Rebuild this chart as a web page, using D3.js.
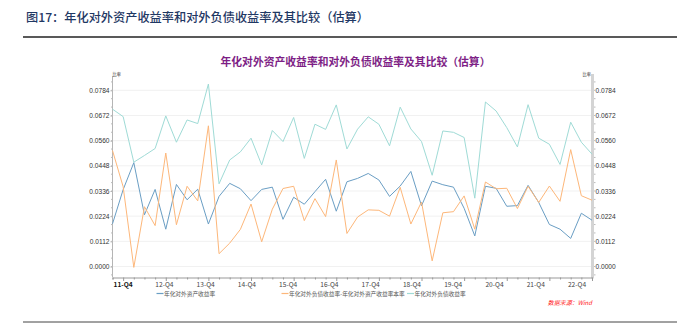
<!DOCTYPE html>
<html>
<head>
<meta charset="utf-8">
<script src="https://cdn.jsdelivr.net/npm/d3@7/dist/d3.min.js"></script>
<style>
  html, body { margin: 0; padding: 0; background: #fff; }
  svg { display: block; font-family: "Noto Sans CJK SC", "Noto Sans", sans-serif; }
</style>
</head>
<body>
<svg id="chart" width="677" height="336"></svg>
<script>
// Quarterly periods, 2011-Q3 to 2022-Q4
const quarters = [
  "11-Q3","11-Q4",
  "12-Q1","12-Q2","12-Q3","12-Q4",
  "13-Q1","13-Q2","13-Q3","13-Q4",
  "14-Q1","14-Q2","14-Q3","14-Q4",
  "15-Q1","15-Q2","15-Q3","15-Q4",
  "16-Q1","16-Q2","16-Q3","16-Q4",
  "17-Q1","17-Q2","17-Q3","17-Q4",
  "18-Q1","18-Q2","18-Q3","18-Q4",
  "19-Q1","19-Q2","19-Q3","19-Q4",
  "20-Q1","20-Q2","20-Q3","20-Q4",
  "21-Q1","21-Q2","21-Q3","21-Q4",
  "22-Q1","22-Q2","22-Q3","22-Q4"
];

// Annualised yield on external assets
const assetYield = [
  0.0190, 0.0342,
  0.0462, 0.0230, 0.0343, 0.0166,
  0.0365, 0.0297, 0.0344, 0.0189,
  0.0312, 0.0370, 0.0346, 0.0293,
  0.0343, 0.0353, 0.0210, 0.0308,
  0.0277, 0.0333, 0.0388, 0.0246,
  0.0377, 0.0392, 0.0414, 0.0385,
  0.0312, 0.0358, 0.0423, 0.0270,
  0.0380, 0.0364, 0.0353, 0.0259,
  0.0136, 0.0357, 0.0348, 0.0268,
  0.0271, 0.0361, 0.0285, 0.0187,
  0.0166, 0.0125, 0.0237, 0.0206
];

// Liability yield minus asset yield
const yieldGap = [
  0.0516, 0.0355,
  -0.0004, 0.0266, 0.0182, 0.0505,
  0.0186, 0.0357, 0.0292, 0.0626,
  0.0057, 0.0104, 0.0165, 0.0278,
  0.0110, 0.0255, 0.0347, 0.0357,
  0.0204, 0.0302, 0.0222, 0.0474,
  0.0147, 0.0220, 0.0252, 0.0250,
  0.0224, 0.0352, 0.0189, 0.0287,
  0.0025, 0.0239, 0.0244, 0.0314,
  0.0166, 0.0376, 0.0346, 0.0348,
  0.0258, 0.0357, 0.0285, 0.0358,
  0.0290, 0.0520, 0.0315, 0.0295
];

// Annualised yield on external liabilities
const liabilityYield = [
  0.0700, 0.0667,
  0.0464, 0.0494, 0.0525, 0.0670,
  0.0553, 0.0652, 0.0636, 0.0812,
  0.0368, 0.0474, 0.0510, 0.0571,
  0.0452, 0.0605, 0.0556, 0.0663,
  0.0481, 0.0633, 0.0610, 0.0719,
  0.0523, 0.0611, 0.0666, 0.0633,
  0.0537, 0.0709, 0.0612, 0.0556,
  0.0406, 0.0603, 0.0597, 0.0574,
  0.0304, 0.0732, 0.0692, 0.0618,
  0.0532, 0.0720, 0.0571, 0.0544,
  0.0454, 0.0642, 0.0553, 0.0500
];

const xTickLabels = ["11-Q4","12-Q4","13-Q4","14-Q4","15-Q4","16-Q4","17-Q4","18-Q4","19-Q4","20-Q4","21-Q4","22-Q4"];
const yTicks = [0, 0.0112, 0.0224, 0.0336, 0.0448, 0.0560, 0.0672, 0.0784];

const seriesNames = ["年化对外资产收益率", "年化对外负债收益率-年化对外资产收益率本率", "年化对外负债收益率"];
const seriesColors = ["#6a9ec4", "#fdb77a", "#9fdbd6"];

const svg = d3.select("#chart");

const plot = { left: 112.5, right: 592, top: 76, bottom: 277.5 };

const x = d3.scalePoint().domain(quarters).range([plot.left, plot.right]);
const y = d3.scaleLinear().domain([0, 0.0784]).range([266.5, 90.3]);

// Page heading and rules
svg.append("text")
  .attr("x", 26).attr("y", 22)
  .attr("font-size", 12.2)
  .attr("font-weight", 500)
  .attr("fill", "#1f3864")
  .text("图17：年化对外资产收益率和对外负债收益率及其比较（估算）");

svg.append("line")
  .attr("x1", 23).attr("x2", 677).attr("y1", 37).attr("y2", 37)
  .attr("stroke", "#222").attr("stroke-width", 1.5);

svg.append("line")
  .attr("x1", 23).attr("x2", 677).attr("y1", 322).attr("y2", 322)
  .attr("stroke", "#444").attr("stroke-width", 1);

// Chart title
svg.append("text")
  .attr("x", 355.5).attr("y", 66)
  .attr("text-anchor", "middle")
  .attr("font-size", 10.8)
  .attr("font-weight", 700)
  .attr("fill", "#7e1f86")
  .text("年化对外资产收益率和对外负债收益率及其比较（估算）");

// Horizontal gridlines
svg.append("g")
  .selectAll("line")
  .data(yTicks)
  .join("line")
  .attr("x1", plot.left).attr("x2", plot.right)
  .attr("y1", d => y(d)).attr("y2", d => y(d))
  .attr("stroke", "#f1f1f1").attr("stroke-width", 1);

// Minor y ticks (thirds of a major step)
const minorY = d3.range(-1, 24).map(k => k * 0.0112 / 3).filter(v => y(v) > plot.top && y(v) < plot.bottom);

function styleYAxis(g) {
  g.select(".domain").remove();
  g.selectAll(".tick line").attr("stroke", "#aaa");
  g.selectAll(".tick text").attr("fill", "#333").attr("font-size", 6.6);
}

// Left axis
const leftAxis = svg.append("g")
  .attr("transform", `translate(${plot.left},0)`)
  .call(d3.axisLeft(y).tickValues(yTicks).tickFormat(d3.format(".4f")).tickSize(2).tickPadding(1))
  .call(styleYAxis);
leftAxis.append("line")
  .attr("y1", plot.top).attr("y2", plot.bottom)
  .attr("stroke", "#b5b5b5").attr("stroke-width", 1);
leftAxis.selectAll(".minor").data(minorY).join("line").attr("class", "minor")
  .attr("x1", -1.5).attr("x2", 0).attr("y1", d => y(d)).attr("y2", d => y(d))
  .attr("stroke", "#bbb");

// Right axis
const rightAxis = svg.append("g")
  .attr("transform", `translate(${plot.right},0)`)
  .call(d3.axisRight(y).tickValues(yTicks).tickFormat(d3.format(".4f")).tickSize(2).tickPadding(1.5))
  .call(styleYAxis);
rightAxis.append("line")
  .attr("x1", 0.5).attr("x2", 0.5)
  .attr("y1", plot.top - 2).attr("y2", plot.bottom + 1)
  .attr("stroke", "#d4d4d4").attr("stroke-width", 3);
rightAxis.selectAll(".minor").data(minorY).join("line").attr("class", "minor")
  .attr("x1", 2).attr("x2", 3.5).attr("y1", d => y(d)).attr("y2", d => y(d))
  .attr("stroke", "#bbb");

// Unit labels
svg.append("text").attr("x", 112.5).attr("y", 76)
  .attr("font-size", 4.2).attr("fill", "#333").text("比率");
svg.append("text").attr("x", 591).attr("y", 76).attr("text-anchor", "end")
  .attr("font-size", 4.2).attr("fill", "#333").text("比率");

// Bottom axis: a tick for every quarter, longer ones at Q4
const bottomAxis = svg.append("g")
  .attr("transform", `translate(0,${plot.bottom})`)
  .call(d3.axisBottom(x).tickSize(2));
bottomAxis.selectAll(".tick text").remove();
bottomAxis.select(".domain").attr("stroke", "#999");
bottomAxis.selectAll(".tick line")
  .attr("stroke", "#999")
  .attr("y2", d => d.endsWith("Q4") ? 3.5 : 2);

// Category labels along the bottom
const xLabel = d3.scalePoint().domain(xTickLabels).range([x("11-Q4"), 577]);
svg.append("g")
  .selectAll("text")
  .data(xTickLabels)
  .join("text")
  .attr("x", d => xLabel(d))
  .attr("y", 287)
  .attr("text-anchor", "middle")
  .attr("font-size", 6.6)
  .attr("font-weight", (d, i) => i === 0 ? 700 : 400)
  .attr("fill", (d, i) => i === 0 ? "#111" : "#444")
  .text(d => d);

// Series lines
const allSeries = [assetYield, yieldGap, liabilityYield];
const line = d3.line()
  .x((d, i) => x(quarters[i]))
  .y(d => y(d));

svg.append("g")
  .selectAll("path")
  .data(allSeries)
  .join("path")
  .attr("d", d => line(d))
  .attr("fill", "none")
  .attr("stroke", (d, i) => seriesColors[i])
  .attr("stroke-width", 1)
  .attr("stroke-linejoin", "round");

// Legend
const legendX = [156.5, 281.5, 407];
const legend = svg.append("g");
seriesNames.forEach((name, i) => {
  const g = legend.append("g").attr("transform", `translate(${legendX[i]},293.5)`);
  g.append("line").attr("x1", 0).attr("x2", 7).attr("y1", 0).attr("y2", 0)
    .attr("stroke", seriesColors[i]).attr("stroke-width", 1.2);
  g.append("text").attr("x", 7.5).attr("y", 2)
    .attr("font-size", 5.7).attr("fill", "#555").text(name);
});

// Source note
svg.append("text")
  .attr("x", 592).attr("y", 304.5)
  .attr("text-anchor", "end")
  .attr("font-size", 6)
  .attr("font-style", "italic")
  .attr("fill", "#ff2020")
  .text("数据来源：Wind");
</script>
</body>
</html>
